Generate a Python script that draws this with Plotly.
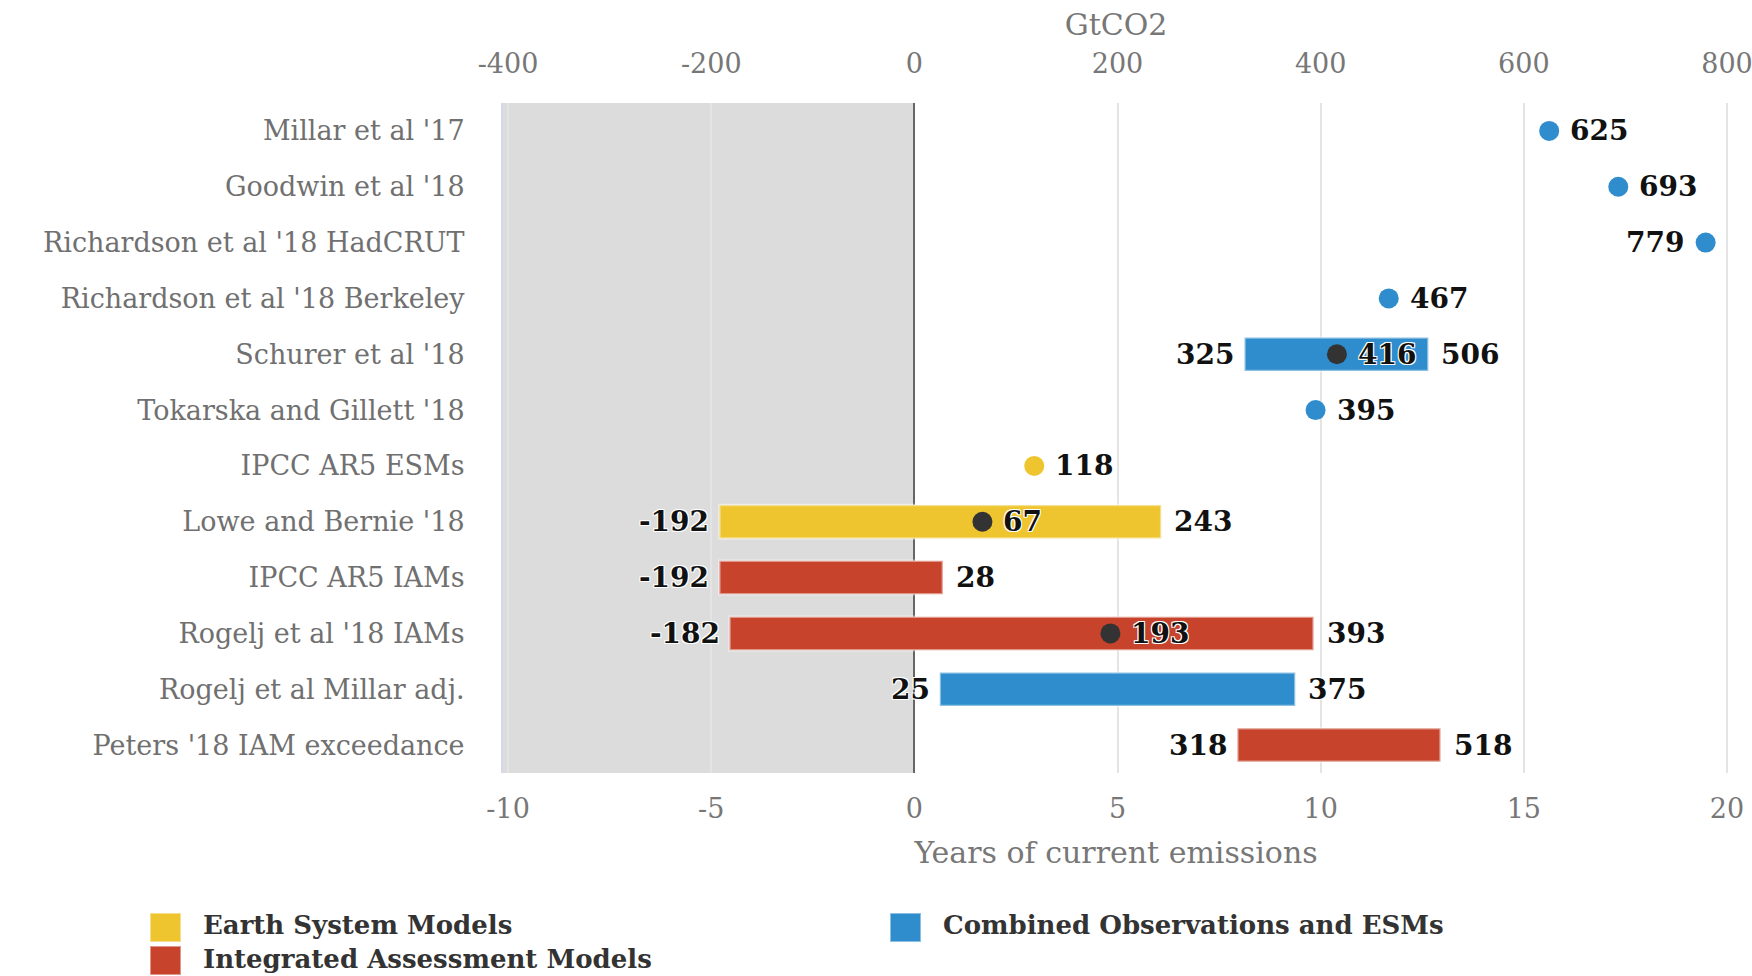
import plotly.graph_objects as go

# ---- data (GtCO2) -------------------------------------------------------
STUDIES = [
    "Millar et al '17",
    "Goodwin et al '18",
    "Richardson et al '18 HadCRUT",
    "Richardson et al '18 Berkeley",
    "Schurer et al '18",
    "Tokarska and Gillett '18",
    "IPCC AR5 ESMs",
    "Lowe and Bernie '18",
    "IPCC AR5 IAMs",
    "Rogelj et al '18 IAMs",
    "Rogelj et al Millar adj.",
    "Peters '18 IAM exceedance",
]
GROUP = ["obs", "obs", "obs", "obs", "obs", "obs", "esm", "esm", "iam", "iam", "obs", "iam"]
POINT = [625, 693, 779, 467, None, 395, 118, None, None, None, None, None]
LOW = [None, None, None, None, 325, None, None, -192, -192, -182, 25, 318]
HIGH = [None, None, None, None, 506, None, None, 243, 28, 393, 375, 518]
CENTRAL = [None, None, None, None, 416, None, None, 67, None, 193, None, None]

GT_TICKS = [-400, -200, 0, 200, 400, 600, 800]
YEAR_TICKS = [-10, -5, 0, 5, 10, 15, 20]
GT_PER_YEAR = 40  # current annual emissions, GtCO2

GROUP_NAMES = {
    "esm": "Earth System Models",
    "iam": "Integrated Assessment Models",
    "obs": "Combined Observations and ESMs",
}

# ---- styling --------------------------------------------------------------
COLORS = {"esm": "#efc52f", "iam": "#c7432c", "obs": "#2f8dcd"}
FONT = "DejaVu Serif, Liberation Serif, serif"
W, H = 1752, 976
ML, MR, MT, MB = 503, 23, 103, 203
X_RANGE = [-405, 802]
HALO = "-1px -1px 0 #fff, 1px -1px 0 #fff, -1px 1px 0 #fff, 1px 1px 0 #fff"

fig = go.Figure()

# shaded "already exceeded" zone left of zero
fig.add_shape(type="rect", xref="x", yref="paper", x0=X_RANGE[0], x1=0, y0=0, y1=1,
              fillcolor="#dcdcdc", line_width=0, layer="below")

# range bars, one trace per model group
for g in ["esm", "iam", "obs"]:
    ys, bases, lens = [], [], []
    for s, grp, lo, hi in zip(STUDIES, GROUP, LOW, HIGH):
        if grp == g and lo is not None:
            ys.append(s)
            bases.append(lo)
            lens.append(hi - lo)
    fig.add_trace(go.Bar(
        y=ys, x=lens, base=bases, orientation="h", width=0.6,
        marker=dict(color=COLORS[g], line=dict(color="rgba(255,255,255,0.45)", width=2.5)),
        showlegend=False, hoverinfo="skip",
    ))

# single-value estimates
for g in ["esm", "iam", "obs"]:
    ys = [s for s, grp, p in zip(STUDIES, GROUP, POINT) if grp == g and p is not None]
    xs = [p for grp, p in zip(GROUP, POINT) if grp == g and p is not None]
    if xs:
        fig.add_trace(go.Scatter(
            y=ys, x=xs, mode="markers",
            marker=dict(color=COLORS[g], size=20),
            showlegend=False, hoverinfo="skip",
        ))

# central estimates inside ranges
cy = [s for s, c in zip(STUDIES, CENTRAL) if c is not None]
cx = [c for c in CENTRAL if c is not None]
fig.add_trace(go.Scatter(y=cy, x=cx, mode="markers",
                         marker=dict(color="#333333", size=20),
                         showlegend=False, hoverinfo="skip"))

# invisible trace so the top GtCO2 axis is rendered
fig.add_trace(go.Scatter(x=[None], y=[None], xaxis="x2", showlegend=False, hoverinfo="skip"))

# value labels
lab_font = dict(family=FONT, size=28, color="#111111", weight="bold", shadow=HALO)


def label(study, value, side, shift):
    fig.add_annotation(x=value, y=study, xref="x", yref="y", text=f"{value:d}",
                       showarrow=False, xanchor=side, xshift=shift, font=lab_font)


for s, p, lo, hi, c in zip(STUDIES, POINT, LOW, HIGH, CENTRAL):
    if p is not None:
        if p > 750:
            label(s, p, "right", -20)
        else:
            label(s, p, "left", 19)
    if lo is not None:
        label(s, lo, "right", -8)
        label(s, hi, "left", 11)
    if c is not None:
        label(s, c, "left", 19)

# legend drawn as swatches + labels below the axis title
PW, PH = W - ML - MR, H - MT - MB


def px(xp):
    return (xp - ML) / PW


def py(yp):
    return (H - MB - yp) / PH


legend_items = [("esm", 150, 913, 925), ("obs", 890, 913, 925), ("iam", 150, 946, 959)]
for g, x0, y0, ty in legend_items:
    fig.add_shape(type="rect", xref="paper", yref="paper",
                  x0=px(x0), x1=px(x0 + 31), y0=py(y0 + 29), y1=py(y0),
                  fillcolor=COLORS[g], line=dict(color="rgba(255,255,255,0.45)", width=2))
    fig.add_annotation(xref="paper", yref="paper", x=px(x0 + 51), y=py(ty),
                       text=GROUP_NAMES[g], showarrow=False, xanchor="left", yanchor="middle",
                       font=dict(family=FONT, size=26, color="#333333", weight="bold"))

axis_font = dict(family=FONT, size=27, color="#777777")
title_font = dict(family=FONT, size=30, color="#777777")

fig.update_layout(
    width=W, height=H,
    margin=dict(l=ML, r=MR, t=MT, b=MB, pad=0),
    paper_bgcolor="white", plot_bgcolor="white",
    barmode="overlay",
    font=dict(family=FONT),
    xaxis=dict(
        range=X_RANGE, tickvals=[y * GT_PER_YEAR for y in YEAR_TICKS],
        ticktext=[str(y) for y in YEAR_TICKS],
        showgrid=True, gridcolor="#e4e4e4", gridwidth=2,
        zeroline=True, zerolinecolor="#666666", zerolinewidth=2,
        ticks="outside", ticklen=12, tickcolor="rgba(0,0,0,0)",
        tickfont=axis_font, automargin=False, ticklabeloverflow="allow",
        title=dict(text="Years of current emissions", font=title_font, standoff=18),
        fixedrange=True,
    ),
    xaxis2=dict(
        overlaying="x", side="top", range=X_RANGE, tickvals=GT_TICKS,
        ticktext=[str(v) for v in GT_TICKS],
        showgrid=False, zeroline=False,
        ticks="outside", ticklen=18, tickcolor="rgba(0,0,0,0)",
        tickfont=axis_font, automargin=False, ticklabeloverflow="allow",
        title=dict(text="GtCO2", font=title_font, standoff=3),
    ),
    yaxis=dict(
        categoryorder="array", categoryarray=STUDIES,
        range=[len(STUDIES) - 0.5, -0.5],
        showgrid=False, zeroline=False,
        showline=True, linecolor="#d3d9ea", linewidth=2,
        ticks="outside", ticklen=31, tickcolor="rgba(0,0,0,0)",
        tickfont=dict(family=FONT, size=27, color="#707070"), automargin=False,
    ),
)

fig.write_html("out.html")
